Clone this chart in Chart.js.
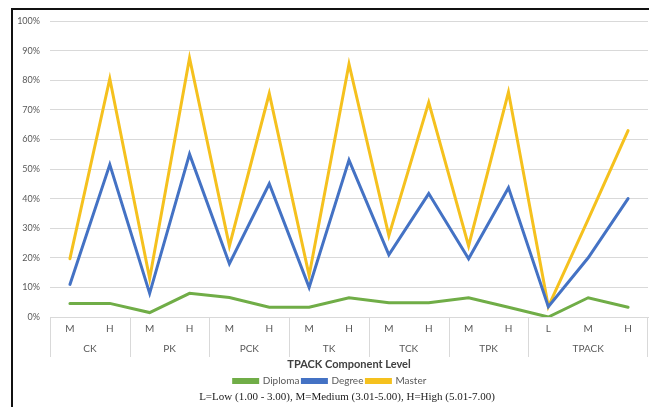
<!DOCTYPE html>
<html>
<head>
<meta charset="utf-8">
<script src="https://cdn.jsdelivr.net/npm/chart.js@4"></script>
<style>
  html, body { margin: 0; padding: 0; background: #fff; }
  #wrap { position: relative; width: 649px; height: 407px; overflow: hidden; }
  #c { display: block; }
  #frame { position: absolute; left: 11px; top: 8px; right: -2px; bottom: -2px;
           border-left: 2px solid #111; border-top: 2px solid #111; pointer-events: none; }
</style>
</head>
<body>
<div id="wrap">
  <canvas id="c" width="649" height="407"></canvas>
  <div id="frame"></div>
</div>
<script>
// ---- data ----
const groups = ['CK', 'PK', 'PCK', 'TK', 'TCK', 'TPK', 'TPACK'];
const levels = [['M','H'], ['M','H'], ['M','H'], ['M','H'], ['M','H'], ['M','H'], ['L','M','H']];
const diploma = [4.6, 4.6, 1.5, 8.0, 6.6, 3.3, 3.3, 6.5, 4.8, 4.8, 6.5, 3.3, 0.0, 6.5, 3.3];
const degree  = [11.0, 51.5, 8.0, 55.0, 18.0, 45.0, 10.0, 53.0, 21.0, 41.7, 19.7, 43.7, 3.5, 20.0, 40.0];
const master  = [19.7, 80.5, 13.0, 87.5, 24.0, 75.5, 14.0, 85.5, 27.5, 72.5, 24.0, 76.0, 3.5, 33.0, 63.0];
const yTicks  = [0, 10, 20, 30, 40, 50, 60, 70, 80, 90, 100];
const axisTitle = 'TPACK Component Level';
const footnote = 'L=Low (1.00 - 3.00), M=Medium (3.01-5.00), H=High (5.01-7.00)';

const labels = [];
const groupSpans = [];
levels.forEach((lv, g) => {
  const start = labels.length;
  lv.forEach(l => labels.push(l));
  groupSpans.push({ name: groups[g], start: start, end: labels.length - 1 });
});

const SANS = 'Lato, "Open Sans", sans-serif';
const TXT = '#595959';

const groupPlugin = {
  id: 'groupLabels',
  afterDraw(chart) {
    const xs = chart.scales.x;
    const ctx = chart.ctx;
    const n = labels.length;
    const step = (xs.right - xs.left) / n;
    ctx.save();
    ctx.strokeStyle = '#d9d9d9';
    ctx.lineWidth = 1;
    const top = xs.top;
    const drawSep = (px) => {
      ctx.beginPath();
      ctx.moveTo(Math.round(px) + 0.5, top);
      ctx.lineTo(Math.round(px) + 0.5, top + 40);
      ctx.stroke();
    };
    ctx.font = '10px ' + SANS;
    ctx.fillStyle = TXT;
    ctx.textAlign = 'center';
    ctx.textBaseline = 'middle';
    groupSpans.forEach((gs, i) => {
      const l = xs.getPixelForValue(gs.start) - step / 2;
      const r = xs.getPixelForValue(gs.end) + step / 2;
      drawSep(l);
      if (i === groupSpans.length - 1) drawSep(Math.min(r, chart.width - 2));
      ctx.fillText(gs.name, (l + r) / 2, top + 32);
    });
    // footnote
    ctx.font = '11px "Liberation Serif", "DejaVu Serif", serif';
    ctx.fillStyle = '#222';
    ctx.fillText(footnote, 347, chart.height - 10);
    ctx.restore();
  }
};

new Chart(document.getElementById('c'), {
  type: 'line',
  data: {
    labels: labels,
    datasets: [
      { label: 'Diploma', data: diploma, borderColor: '#70AD47', backgroundColor: '#70AD47' },
      { label: 'Degree',  data: degree,  borderColor: '#4472C4', backgroundColor: '#4472C4' },
      { label: 'Master',  data: master,  borderColor: '#F5C11E', backgroundColor: '#F5C11E' }
    ]
  },
  options: {
    responsive: false,
    animation: false,
    devicePixelRatio: 1,
    layout: { padding: { left: 12, right: 1, top: 21, bottom: 11 } },
    elements: {
      line: { borderWidth: 3, tension: 0, borderCapStyle: 'round', borderJoinStyle: 'miter' },
      point: { radius: 0, hoverRadius: 0 }
    },
    scales: {
      x: {
        type: 'category',
        offset: true,
        grid: { display: false, drawTicks: false, tickLength: 0 },
        border: { display: true, color: '#d9d9d9', width: 1 },
        ticks: { color: TXT, font: { family: SANS, size: 10 }, padding: 6, maxRotation: 0, autoSkip: false },
        title: { display: true, text: axisTitle, color: '#404040',
                 font: { family: SANS, size: 11, weight: 'bold' }, padding: { top: 0, bottom: 2 } },
        afterFit(scale) { scale.height = 56; }
      },
      y: {
        min: 0, max: 100,
        afterBuildTicks(scale) { scale.ticks = yTicks.map(v => ({ value: v })); },
        grid: { color: '#d9d9d9', lineWidth: 1, drawTicks: false },
        border: { display: false },
        ticks: { color: TXT, font: { family: SANS, size: 9 }, padding: 10,
                 callback: v => v + '%' },
        afterFit(scale) { scale.width = 38; }
      }
    },
    plugins: {
      legend: {
        position: 'bottom',
        labels: { color: TXT, font: { family: SANS, size: 10 }, boxWidth: 24, boxHeight: 3, padding: 3 }
      },
      title: { display: false },
      tooltip: { enabled: false }
    }
  },
  plugins: [groupPlugin]
});
</script>
</body>
</html>
